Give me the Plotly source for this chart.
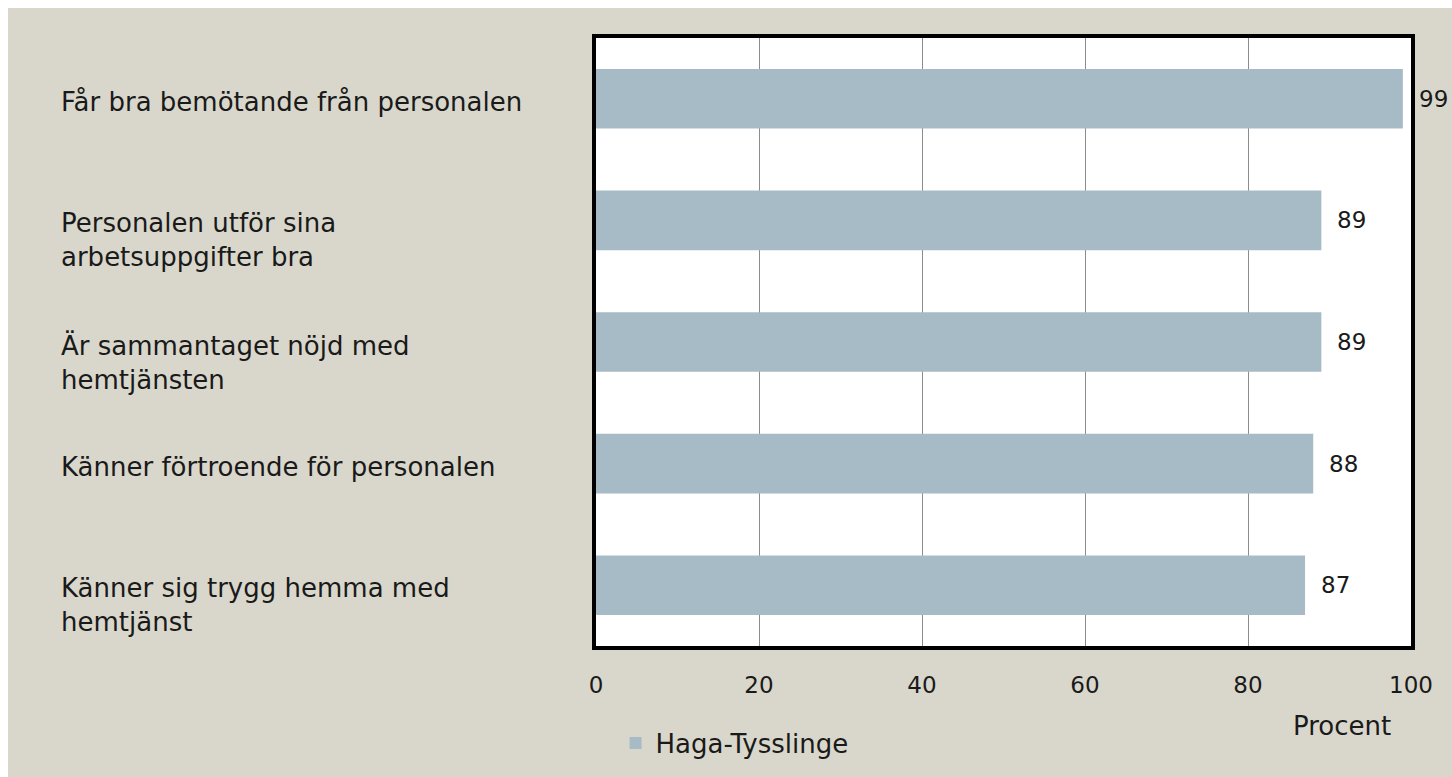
import plotly.graph_objects as go

# Andel (procent) per fråga, uppifrån och ned som i rapporten
fragor = [
    'Får bra bemötande från personalen',
    'Personalen utför sina<br>arbetsuppgifter bra',
    'Är sammantaget nöjd med<br>hemtjänsten',
    'Känner förtroende för personalen',
    'Känner sig trygg hemma med<br>hemtjänst',
]
procent = [99, 89, 89, 88, 87]
serie_namn = 'Haga-Tysslinge'
x_ticks = [0, 20, 40, 60, 80, 100]

BEIGE = '#d9d7cb'
STAPEL = '#a7bbc6'
FONT = 'DejaVu Sans'
TEXT = '#1a1a1a'

fig = go.Figure()

fig.add_trace(go.Bar(
    x=procent,
    y=fragor,
    orientation='h',
    name=serie_namn,
    marker=dict(color=STAPEL, line=dict(width=0)),
    showlegend=True,
    hoverinfo='x+y'
))

# etiketter till vänster, vänsterjusterade (första raden i höjd med stapeln)
for f in fragor:
    fig.add_annotation(
        x=-0.658, xref='paper', xanchor='left',
        y=f, yref='y', yanchor='top', yshift=13,
        text=f, showarrow=False, align='left',
        font=dict(family=FONT, size=26, color=TEXT),
        borderpad=0
    )

# värden till höger om staplarna
for f, v in zip(fragor, procent):
    fig.add_annotation(
        x=v, xref='x', xanchor='left', xshift=14,
        y=f, yref='y', yanchor='middle',
        text=str(v), showarrow=False,
        font=dict(family=FONT, size=23, color=TEXT)
    )

# axeltitel nere till höger
fig.add_annotation(
    x=0.915, xref='paper', xanchor='center',
    y=-0.131, yref='paper', yanchor='middle',
    text='Procent', showarrow=False,
    font=dict(family=FONT, size=26, color=TEXT)
)

fig.update_layout(
    width=1444,
    height=769,
    margin=dict(l=588, r=41, t=30, b=130),
    paper_bgcolor=BEIGE,
    plot_bgcolor='white',
    bargap=0.51,
    font=dict(family=FONT, size=23, color=TEXT),
    legend=dict(
        orientation='h',
        x=0.024, xanchor='left',
        y=-0.158, yanchor='middle',
        bgcolor='rgba(0,0,0,0)',
        font=dict(family=FONT, size=26, color=TEXT)
    )
)

fig.update_xaxes(
    range=[0, 100],
    tickvals=x_ticks,
    ticktext=[str(t) for t in x_ticks],
    showgrid=True,
    gridcolor='#8c8c8c',
    gridwidth=1,
    zeroline=False,
    showline=True,
    linecolor='black',
    linewidth=4,
    mirror=True,
    ticks='outside',
    ticklen=15,
    tickcolor='rgba(0,0,0,0)',
    tickfont=dict(family=FONT, size=23, color=TEXT)
)

fig.update_yaxes(
    autorange='reversed',
    showticklabels=False,
    showgrid=False,
    zeroline=False,
    showline=True,
    linecolor='black',
    linewidth=4,
    mirror=True,
    ticks=''
)

# marginal bara uppe och till vänster, så att sidan inte blir större än fönstret
fig.write_html(
    'out.html',
    post_script="document.body.style.margin='8px 0 0 8px'; document.documentElement.style.overflow='hidden';"
)
